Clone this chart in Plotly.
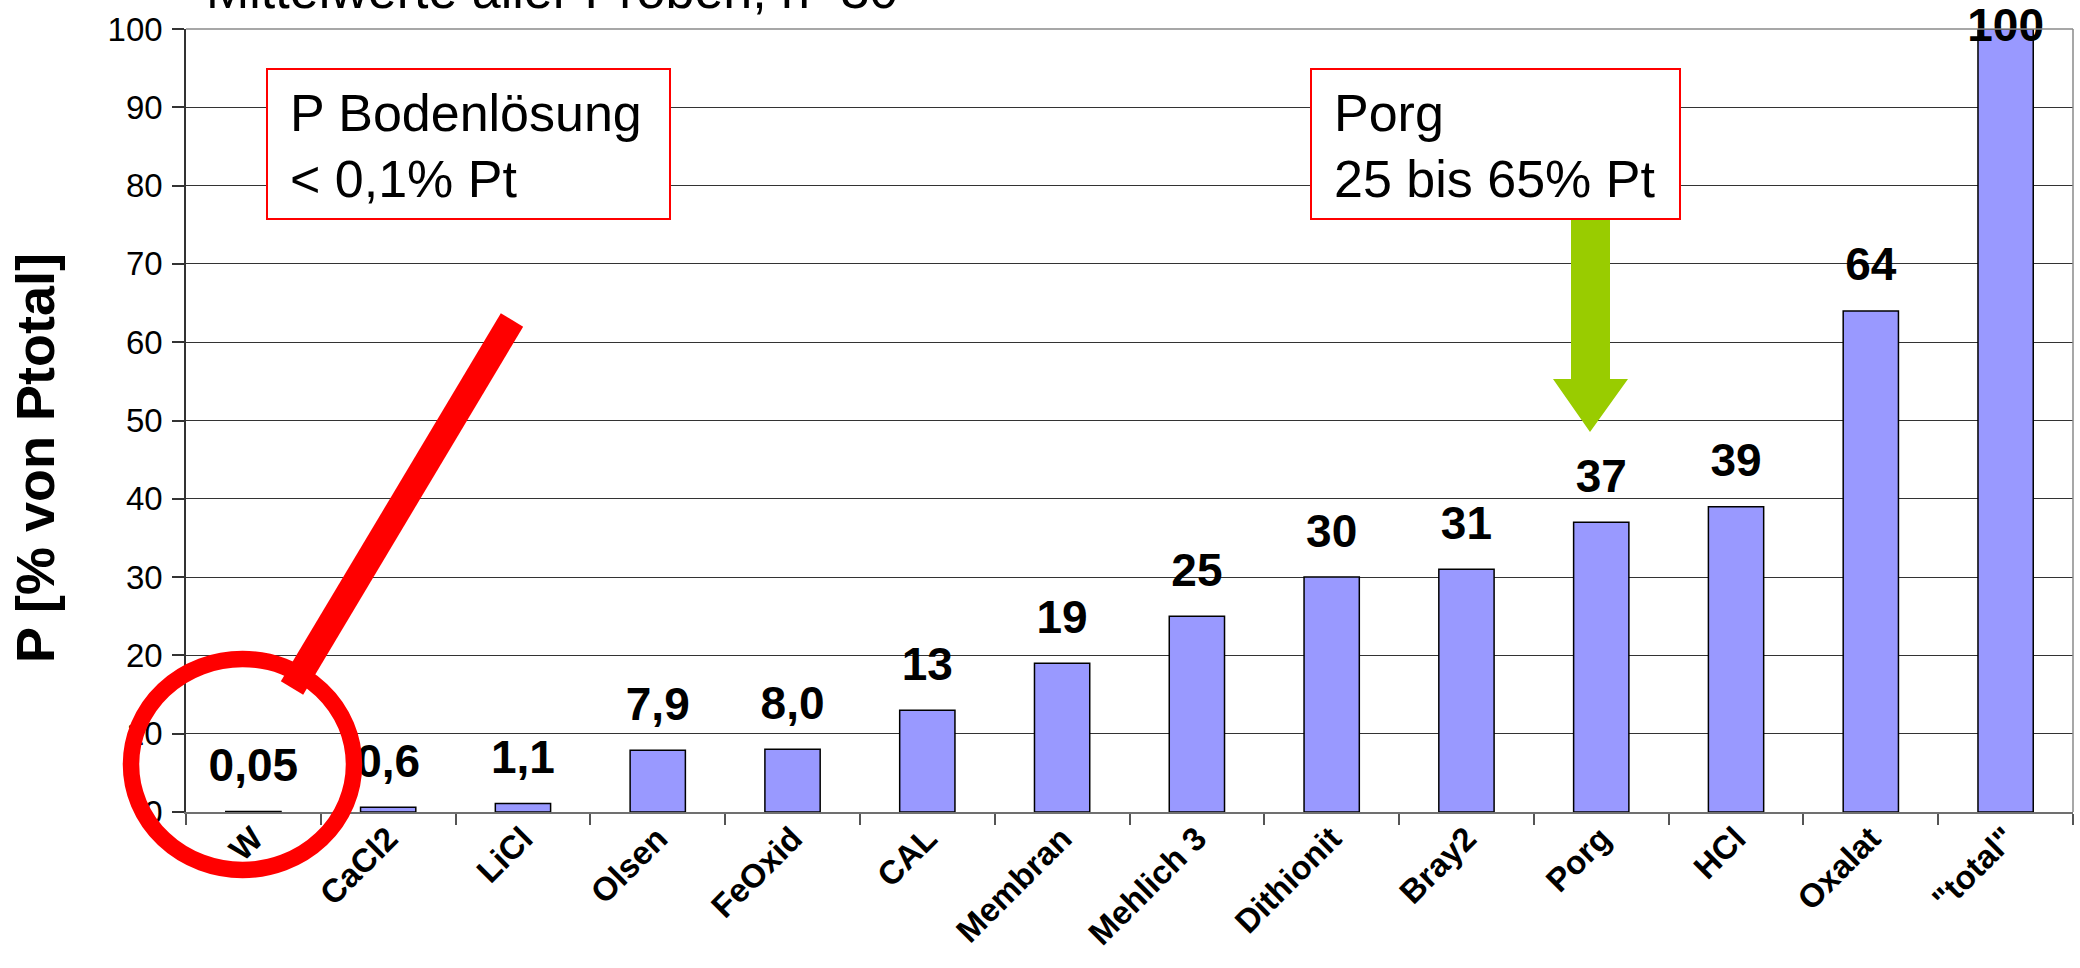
import plotly.graph_objects as go

# ---------------- data ----------------
categories = ["W", "CaCl2", "LiCl", "Olsen", "FeOxid", "CAL", "Membran",
              "Mehlich 3", "Dithionit", "Bray2", "Porg", "HCl", "Oxalat", '"total"']
values = [0.05, 0.6, 1.1, 7.9, 8.0, 13, 19, 25, 30, 31, 37, 39, 64, 100]
value_labels = ["0,05", "0,6", "1,1", "7,9", "8,0", "13", "19", "25", "30",
                "31", "37", "39", "64", "100"]
y_ticks = [0, 10, 20, 30, 40, 50, 60, 70, 80, 90, 100]

title_text = "Mittelwerte aller Proben, n=30"
y_title = "P [% von Ptotal]"
box1_lines = ["P Bodenlösung", "&lt; 0,1% Pt"]
box2_lines = ["Porg", "25 bis 65% Pt"]

# ---------------- geometry ----------------
W, H = 2080, 968
ML, MR, MT, MB = 186, 7, 29, 156
PW, PH = W - ML - MR, H - MT - MB
Y_MAX = 100
FONT = "Liberation Sans, Arial, sans-serif"


def px(x):
    return (x - ML) / PW


def py(y):
    return (H - MB - y) / PH


label_offset = 42 * Y_MAX / PH  # label centre sits 42 px above bar top
label_y = [min(v + label_offset, Y_MAX) for v in values]

fig = go.Figure()
fig.add_trace(go.Bar(
    x=categories, y=values,
    marker=dict(color="#9999FF", line=dict(color="#000000", width=1.5)),
    hoverinfo="skip",
))
fig.add_trace(go.Scatter(
    x=categories, y=label_y, mode="text",
    text=["<b>%s</b>" % t for t in value_labels],
    textposition="middle center",
    textfont=dict(family=FONT, size=46, color="#000000"),
    cliponaxis=False, hoverinfo="skip",
))

shapes = []
# plot border (top & right)
shapes.append(dict(type="line", xref="paper", yref="paper", x0=0, x1=1, y0=1, y1=1,
                   line=dict(color="#8a8a8a", width=1.5), layer="above"))
shapes.append(dict(type="line", xref="paper", yref="paper", x0=1, x1=1, y0=0, y1=1,
                   line=dict(color="#8a8a8a", width=1.5), layer="above"))
# text boxes
for x0, x1 in [(267, 670), (1311, 1680)]:
    shapes.append(dict(type="rect", xref="paper", yref="paper",
                       x0=px(x0), x1=px(x1), y0=py(219), y1=py(69),
                       line=dict(color="#FF0000", width=2), fillcolor="#FFFFFF",
                       layer="above"))
# green arrow
pts = [(1571, 220), (1610, 220), (1610, 379), (1628, 379), (1590, 432),
       (1553, 379), (1571, 379)]
path = "M " + " L ".join("%f,%f" % (px(a), py(b)) for a, b in pts) + " Z"
shapes.append(dict(type="path", xref="paper", yref="paper", path=path,
                   fillcolor="#99CC00", line=dict(width=0), layer="above"))
# red magnifier line + ring
shapes.append(dict(type="line", xref="paper", yref="paper",
                   x0=px(512), y0=py(320), x1=px(292), y1=py(688),
                   line=dict(color="#FF0000", width=26), layer="above"))
shapes.append(dict(type="circle", xref="paper", yref="paper",
                   x0=px(131), x1=px(354), y0=py(870), y1=py(659),
                   line=dict(color="#FF0000", width=16.5),
                   fillcolor="rgba(0,0,0,0)", layer="above"))

annotations = []
annotations.append(dict(xref="paper", yref="paper", x=px(204), y=py(-10),
                        xanchor="left", yanchor="middle", showarrow=False,
                        text=title_text, font=dict(family=FONT, size=52, color="#000")))
for x_left, lines in [(288, box1_lines), (1332, box2_lines)]:
    for y_c, line in zip([113, 179], lines):
        annotations.append(dict(xref="paper", yref="paper", x=px(x_left), y=py(y_c),
                                xanchor="left", yanchor="middle", showarrow=False,
                                text=line, font=dict(family=FONT, size=52, color="#000")))
annotations.append(dict(xref="paper", yref="paper", x=px(35), y=py(458),
                        xanchor="center", yanchor="middle", showarrow=False,
                        textangle=-90, text="<b>%s</b>" % y_title,
                        font=dict(family=FONT, size=54, color="#000")))

fig.update_layout(
    width=W, height=H,
    margin=dict(l=ML, r=MR, t=MT, b=MB, pad=0, autoexpand=False),
    paper_bgcolor="#FFFFFF", plot_bgcolor="#FFFFFF",
    showlegend=False, bargap=0.59,
    shapes=shapes, annotations=annotations,
    font=dict(family=FONT, color="#000"),
)
fig.update_xaxes(
    type="category", range=[-0.5, len(categories) - 0.5], automargin=False,
    tickangle=-45, tickfont=dict(family=FONT, size=33, color="#000", weight="bold"),
    tickson="boundaries", ticks="outside", ticklen=11, tickwidth=1.5, tickcolor="#555",
    ticklabelstandoff=-8,
    showline=True, linecolor="#707070", linewidth=2, showgrid=False, zeroline=False,
)
fig.update_yaxes(
    range=[0, Y_MAX], tickvals=y_ticks, automargin=False,
    ticks="outside", ticklen=12, tickwidth=1.5,
    tickcolor="#333", tickfont=dict(family=FONT, size=33, color="#000"),
    ticklabelstandoff=3,
    showline=True, linecolor="#333", linewidth=1.5,
    showgrid=True, gridcolor="#333", gridwidth=1, zeroline=False,
)

fig.write_html(
    "out.html",
    config={"displayModeBar": False},
    post_script="document.body.style.margin='0px';document.body.style.overflow='hidden';",
)
